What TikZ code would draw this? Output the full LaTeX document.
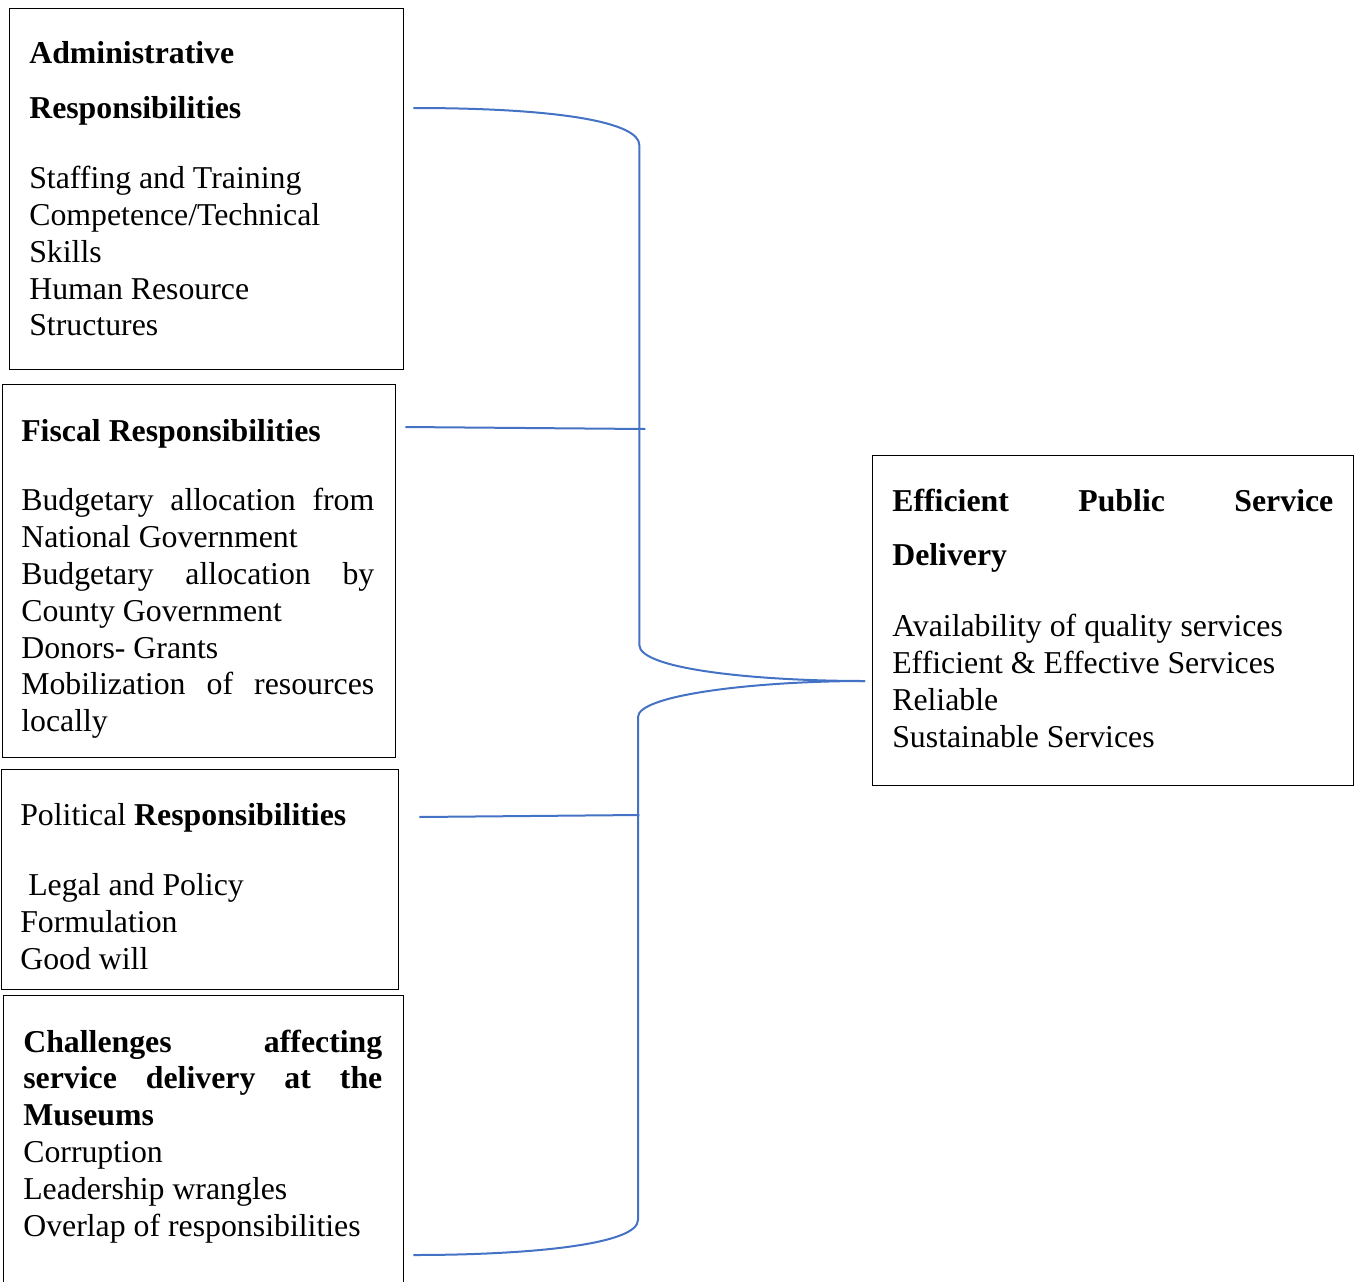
\documentclass[tikz,border=0pt]{standalone}
\usepackage{fontspec}
\setmainfont{Liberation Serif}
\usetikzlibrary{calc}
\definecolor{linkblue}{RGB}{68,114,196}
\newcommand{\boxfont}{\fontsize{31.8}{36.8}\selectfont}
\newcommand{\jl}[2]{\makebox[#1][s]{#2}}

\begin{document}
\begin{tikzpicture}[x=1pt,y=-1pt,semithick]
  \tikzstyle{frame}=[draw=black,line width=1.3pt,rectangle,inner sep=0pt,anchor=north west]
  \tikzstyle{body}=[inner sep=0pt,anchor=base west,font=\boxfont]
  \tikzstyle{brace}=[draw=linkblue,line width=2pt]

  \useasboundingbox (0,0) rectangle (1357,1282);

  % boxes
  \node[frame,minimum width=394pt,minimum height=361pt] (adm) at (9,8) {};
  \node[frame,minimum width=393pt,minimum height=373pt] (fis) at (2,384) {};
  \node[frame,minimum width=397pt,minimum height=220pt] (pol) at (1,769) {};
  \node[frame,minimum width=400pt,minimum height=300pt] (cha) at (3,995) {};
  \node[frame,minimum width=481pt,minimum height=330pt] (eff) at (872,455) {};

  % texts
  \node[body] (admtext) at ($(adm.north west)+(20,55)$) {\parbox[t]{360pt}{%
    \textbf{Administrative}\\[19pt]
    \textbf{Responsibilities}\\[33pt]
    Staffing and Training\\
    Competence/Technical\\
    Skills\\
    Human Resource\\
    Structures}};
  \node[body] (fistext) at ($(fis.north west)+(19,57)$) {\parbox[t]{353pt}{%
    \textbf{Fiscal Responsibilities}\\[33pt]
    \jl{353pt}{Budgetary allocation from}\\
    National Government\\
    \jl{353pt}{Budgetary allocation by}\\
    County Government\\
    Donors- Grants\\
    \jl{353pt}{Mobilization of resources}\\
    locally}};
  \node[body] (poltext) at ($(pol.north west)+(19,56)$) {\parbox[t]{370pt}{%
    Political \textbf{Responsibilities}\\[34pt]
    \hspace*{8pt}Legal and Policy\\
    Formulation\\
    Good will}};
  \node[body] (chatext) at ($(cha.north west)+(20,57)$) {\parbox[t]{359pt}{%
    \textbf{\jl{359pt}{Challenges affecting}}\\
    \textbf{\jl{359pt}{service delivery at the}}\\
    \textbf{Museums}\\
    Corruption\\
    Leadership wrangles\\
    Overlap of responsibilities}};
  \node[body] (efftext) at ($(eff.north west)+(20,56)$) {\parbox[t]{441pt}{%
    \textbf{\jl{441pt}{Efficient Public Service}}\\[18pt]
    \textbf{Delivery}\\[34pt]
    Availability of quality services\\
    Efficient \& Effective Services\\
    Reliable\\
    Sustainable Services}};

  % connector ends
  \coordinate (tip) at ($(eff.north west)+(-7,226)$);
  \coordinate (admend) at ($(adm.north east)+(9,100)$);
  \coordinate (fisend) at ($(fis.north east)+(9,43)$);
  \coordinate (polend) at ($(pol.north east)+(20,48)$);
  \coordinate (chaend) at ($(cha.north east)+(9,260)$);

  \draw[brace] (admend) .. controls +(150,0) and +(0,-22) .. ++(226,37)
    -- ++(0,500) .. controls +(0,24) and +(-110,0) .. (tip);
  \draw[brace] (tip) .. controls +(-110,0) and +(0,-22) .. ++(-227,36)
    -- ++(0,503) .. controls +(0,24) and +(120,0) .. (chaend);
  \draw[brace] (fisend) -- ++(240,2);
  \draw[brace] (polend) -- ++(220,-2);
\end{tikzpicture}
\end{document}
